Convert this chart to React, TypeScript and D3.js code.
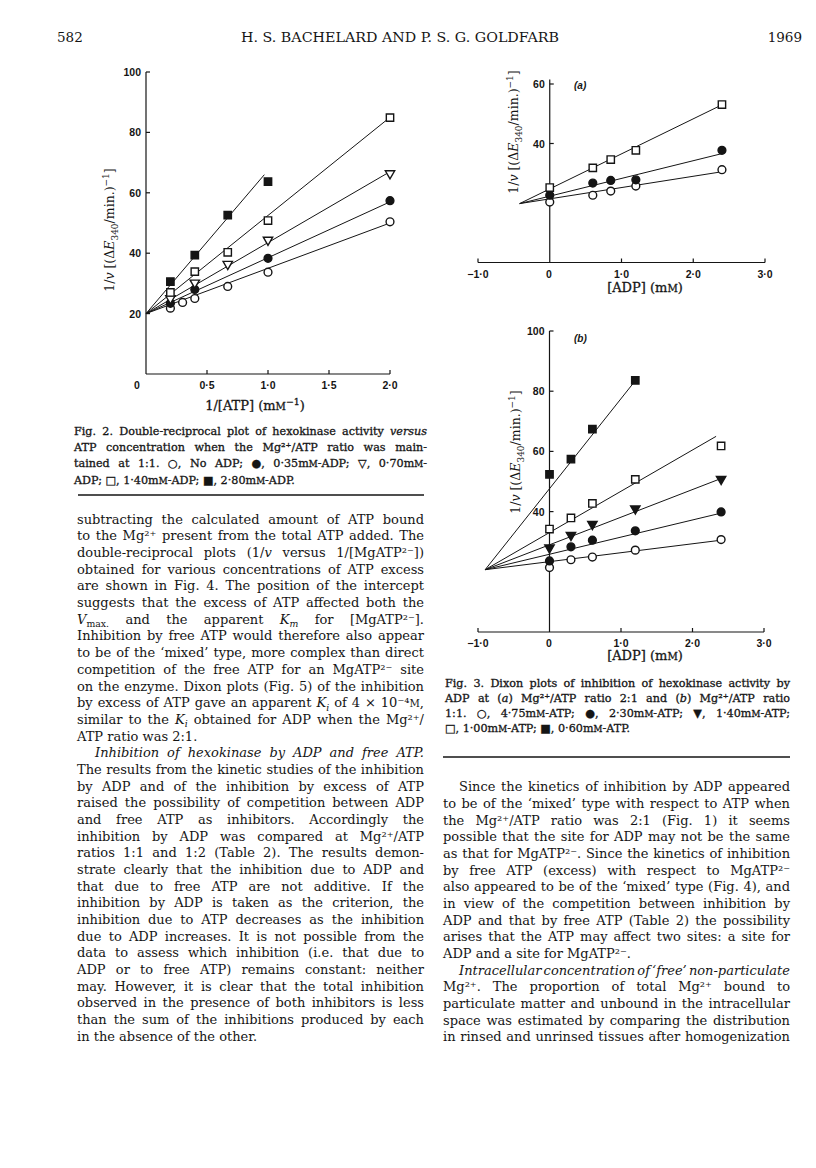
import React, { useLayoutEffect, useRef } from 'react';
import * as d3 from 'd3';

// ---- Fig. 2: double-reciprocal plot, 1/[ATP] (mM^-1) vs 1/v ----
const f2NoAdpX = [0.2, 0.3, 0.4, 0.67, 1.0, 2.0];
const f2NoAdpY = [21.8, 23.7, 25, 29, 33.7, 50.4];
const f2Adp035X = [0.2, 0.4, 1.0, 2.0];
const f2Adp035Y = [23.4, 28, 38.3, 57.4];
const f2Adp070X = [0.2, 0.4, 0.67, 1.0, 2.0];
const f2Adp070Y = [25, 30.2, 36.4, 44.4, 66.4];
const f2Adp140X = [0.2, 0.4, 0.67, 1.0, 2.0];
const f2Adp140Y = [27, 33.9, 40.3, 50.8, 84.9];
const f2Adp280X = [0.2, 0.4, 0.67, 1.0];
const f2Adp280Y = [30.6, 39.4, 52.6, 63.7];
// fitted lines: common intercept, then end point of each line
const f2Intercept = [0, 20];
const f2LineEndX = [2.0, 2.0, 2.0, 2.0, 0.97];
const f2LineEndY = [50, 57, 67, 85, 66];
const f2XTicks = [0.5, 1.0, 1.5, 2.0];
const f2XLabels = ['0·5', '1·0', '1·5', '2·0'];
const f2YTicks = [20, 40, 60, 80, 100];

// ---- Fig. 3(a): Dixon plot, Mg/ATP 2:1 ----
const f3aX = [0, 0.6, 0.85, 1.2, 2.4];
const f3aAtp475 = [20.3, 22.6, 24, 25.7, 31.2];
const f3aAtp230 = [22.6, 26.7, 27.6, 27.8, 37.7];
const f3aAtp100 = [25.2, 31.8, 34.6, 37.7, 53.1];
const f3aMeet = [-0.42, 19.8];
const f3aLineEndX = [2.4, 2.4, 2.4];
const f3aLineEndY = [30.5, 36.6, 53];

// ---- Fig. 3(b): Dixon plot, Mg/ATP 1:1 ----
const f3bX = [0, 0.3, 0.6, 1.2, 2.4];
const f3bAtp475 = [21.4, 24, 24.9, 27.2, 30.7];
const f3bAtp230 = [23.6, 28.3, 30.5, 33.6, 39.9];
const f3bAtp140 = [28, 32.2, 35.8, 41, 50.8];
const f3bAtp100 = [34.2, 37.9, 42.7, 50.7, 61.8];
const f3bAtp060X = [0, 0.3, 0.6, 1.2];
const f3bAtp060 = [52.4, 57.4, 67.4, 83.6];
const f3bMeet = [-0.9, 20.7];
const f3bLineEndX = [2.4, 2.4, 2.4, 2.33, 1.2];
const f3bLineEndY = [30.5, 39.5, 51, 65, 83.5];

const f3XTicks = [-1, 1, 2, 3];
const f3XLabels = ['−1·0', '1·0', '2·0', '3·0'];

const INK = '#151515';
const SERIF = '"DejaVu Serif", "Liberation Serif", serif';
const SANS = '"Liberation Sans", "DejaVu Sans", sans-serif';

// ---- text ----
const header = ['582', 'H. S. BACHELARD AND P. S. G. GOLDFARB', '1969'];

const fig2Caption = [
  'Fig. 2. Double-reciprocal plot of hexokinase activity *versus*',
  'ATP concentration when the Mg²⁺/ATP ratio was main-',
  'tained at 1:1. ○, No ADP; ●, 0·35m#m#-ADP; ▽, 0·70m#m#-',
  'ADP; □, 1·40m#m#-ADP; ■, 2·80m#m#-ADP.¶',
];

const fig3Caption = [
  'Fig. 3. Dixon plots of inhibition of hexokinase activity by',
  'ADP at (*a*) Mg²⁺/ATP ratio 2:1 and (*b*) Mg²⁺/ATP ratio',
  '1:1. ○, 4·75m#m#-ATP; ●, 2·30m#m#-ATP; ▼, 1·40m#m#-ATP;',
  '□, 1·00m#m#-ATP; ■, 0·60m#m#-ATP.¶',
];

const leftText = [
  'subtracting the calculated amount of ATP bound',
  'to the Mg²⁺ present from the total ATP added. The',
  'double-reciprocal plots (1/*v* versus 1/[MgATP²⁻])',
  'obtained for various concentrations of ATP excess',
  'are shown in Fig. 4. The position of the intercept',
  'suggests that the excess of ATP affected both the',
  '*V*_max._ and the apparent *K*_*m*_ for [MgATP²⁻].',
  'Inhibition by free ATP would therefore also appear',
  'to be of the ‘mixed’ type, more complex than direct',
  'competition of the free ATP for an MgATP²⁻ site',
  'on the enzyme. Dixon plots (Fig. 5) of the inhibition',
  'by excess of ATP gave an apparent *K*_*i*_ of 4 × 10⁻⁴#m#,',
  'similar to the *K*_*i*_ obtained for ADP when the Mg²⁺/',
  'ATP ratio was 2:1.¶',
  '>*Inhibition of hexokinase by ADP and free ATP.*',
  'The results from the kinetic studies of the inhibition',
  'by ADP and of the inhibition by excess of ATP',
  'raised the possibility of competition between ADP',
  'and free ATP as inhibitors. Accordingly the',
  'inhibition by ADP was compared at Mg²⁺/ATP',
  'ratios 1:1 and 1:2 (Table 2). The results demon-',
  'strate clearly that the inhibition due to ADP and',
  'that due to free ATP are not additive. If the',
  'inhibition by ADP is taken as the criterion, the',
  'inhibition due to ATP decreases as the inhibition',
  'due to ADP increases. It is not possible from the',
  'data to assess which inhibition (i.e. that due to',
  'ADP or to free ATP) remains constant: neither',
  'may. However, it is clear that the total inhibition',
  'observed in the presence of both inhibitors is less',
  'than the sum of the inhibitions produced by each',
  'in the absence of the other.¶',
];

const rightText = [
  '>Since the kinetics of inhibition by ADP appeared',
  'to be of the ‘mixed’ type with respect to ATP when',
  'the Mg²⁺/ATP ratio was 2:1 (Fig. 1) it seems',
  'possible that the site for ADP may not be the same',
  'as that for MgATP²⁻. Since the kinetics of inhibition',
  'by free ATP (excess) with respect to MgATP²⁻',
  'also appeared to be of the ‘mixed’ type (Fig. 4), and',
  'in view of the competition between inhibition by',
  'ADP and that by free ATP (Table 2) the possibility',
  'arises that the ATP may affect two sites: a site for',
  'ADP and a site for MgATP²⁻.¶',
  '>*Intracellular concentration of ‘free’ non-particulate*',
  'Mg²⁺. The proportion of total Mg²⁺ bound to',
  'particulate matter and unbound in the intracellular',
  'space was estimated by comparing the distribution',
  'in rinsed and unrinsed tissues after homogenization',
];

// *italic*  _subscript_  ^superscript^  #small caps#
function parse(s: string) {
  const out: any[] = [];
  let it = false, sub = false, sup = false, sc = false, buf = '';
  const push = () => { if (buf) out.push({ t: buf, it, sub, sup, sc }); buf = ''; };
  for (const ch of s) {
    if (ch === '*') { push(); it = !it; }
    else if (ch === '_') { push(); sub = !sub; }
    else if (ch === '^') { push(); sup = !sup; }
    else if (ch === '#') { push(); sc = !sc; }
    else buf += ch;
  }
  push();
  return out;
}

function Rich({ text, x, y, size, width, anchor, heavy, transform }: any) {
  const segs = parse(text);
  let off = 0;
  return (
    <text x={x} y={y} fontSize={size} fontFamily={SERIF} fill={INK} textAnchor={anchor}
      stroke={heavy ? INK : undefined} strokeWidth={heavy ? heavy : undefined}
      transform={transform} style={{ whiteSpace: 'pre' }} data-w={width}>
      {segs.map((s, i) => {
        const target = s.sub ? size * 0.28 : s.sup ? -size * 0.38 : 0;
        const dy = target - off;
        off = target;
        const small = s.sub || s.sup || s.sc;
        return (
          <tspan key={i} dy={dy || undefined} fontStyle={s.it ? 'italic' : undefined}
            fontSize={small ? size * (s.sc ? 0.78 : 0.72) : undefined}>
            {s.sc ? s.t.toUpperCase() : s.t}
          </tspan>
        );
      })}
    </text>
  );
}

function Column({ lines, x0, x1, y0, step, size, indent, heavy }: any) {
  return (
    <g>
      {lines.map((raw: string, i: number) => {
        let t = raw;
        const ind = t.startsWith('>');
        if (ind) t = t.slice(1);
        const last = t.endsWith('¶');
        if (last) t = t.slice(0, -1);
        const x = x0 + (ind ? indent : 0);
        return (
          <Rich key={i} text={t} x={x} y={y0 + i * step + 4.5} size={size} heavy={heavy}
            width={last ? undefined : x1 - x} />
        );
      })}
    </g>
  );
}

const SYM: any = { c: d3.symbolCircle, s: d3.symbolSquare, t: d3.symbolTriangle };

function Marker({ kind, cx, cy }: any) {
  const shape = kind[1];
  const filled = kind[0] === 'f';
  const size = shape === 'c' ? 48 : shape === 's' ? 54 : 38;
  const d = d3.symbol(SYM[shape], size)() as string;
  return (
    <path d={d} transform={`translate(${cx},${cy})${shape === 't' ? ' rotate(180)' : ''}`}
      fill={filled ? INK : '#fff'} stroke={INK} strokeWidth={1.4} />
  );
}

function Panel({ xs, ys, xTicks, xLabels, yTicks, yTop, series, tag, tagPos, xMin }: any) {
  const x0 = xs(0);
  const yAxis = ys(0);
  const line = d3.line<number[]>().x(d => xs(d[0])).y(d => ys(d[1]));
  return (
    <g>
      {/* axes */}
      <line x1={xs(xMin)} x2={xs(xTicks[xTicks.length - 1])} y1={yAxis} y2={yAxis} stroke={INK} strokeWidth={1.2} />
      <line x1={x0} x2={x0} y1={yAxis} y2={ys(yTop)} stroke={INK} strokeWidth={1.2} />
      {xTicks.map((v: number, i: number) => (
        <g key={'xt' + i}>
          <line x1={xs(v)} x2={xs(v)} y1={yAxis} y2={yAxis - 4} stroke={INK} strokeWidth={1.2} />
          <text x={xs(v)} y={yAxis + 11} fontSize={10.5} fontWeight="bold" fontFamily={SANS}
            textAnchor="middle" dominantBaseline="central" fill={INK}>{xLabels[i]}</text>
        </g>
      ))}
      {yTicks.map((v: number) => (
        <g key={'yt' + v}>
          <line x1={x0} x2={x0 + 4} y1={ys(v)} y2={ys(v)} stroke={INK} strokeWidth={1.2} />
          <text x={x0 - 5} y={ys(v)} fontSize={10.5} fontWeight="bold" fontFamily={SANS}
            textAnchor="end" dominantBaseline="central" fill={INK}>{v}</text>
        </g>
      ))}
      {/* fitted lines */}
      {series.map((s: any, i: number) => (
        <path key={'l' + i} d={line([s.start, s.end]) as string} stroke={INK} strokeWidth={1} fill="none" />
      ))}
      {/* points */}
      {series.map((s: any, i: number) => (
        <g key={'p' + i}>
          {s.x.map((xv: number, j: number) => (
            <Marker key={j} kind={s.kind} cx={xs(xv)} cy={ys(s.y[j])} />
          ))}
        </g>
      ))}
      {tag && (
        <text x={tagPos[0]} y={tagPos[1]} fontSize={10} fontStyle="italic" fontWeight="bold"
          fontFamily={SANS} fill={INK} dominantBaseline="central">{tag}</text>
      )}
    </g>
  );
}

const YLABEL = '1/*v* [(Δ*E*_340_/min.)^−1^]';

export default function App() {
  const svgRef = useRef<SVGSVGElement>(null);

  // justify the text lines by spreading the word gaps
  useLayoutEffect(() => {
    const svg = svgRef.current;
    if (!svg) return;
    svg.querySelectorAll('text[data-w]').forEach((el: any) => {
      const w = +el.getAttribute('data-w');
      const gaps = (el.textContent.trim().match(/ /g) || []).length;
      if (!gaps) return;
      el.style.wordSpacing = '0px';
      const nat = el.getComputedTextLength();
      el.style.wordSpacing = `${(w - nat) / gaps}px`;
      const after = el.getComputedTextLength();
      if (Math.abs(after - w) > 1) {
        // word-spacing ignored: fall back to textLength
        el.style.wordSpacing = '';
        el.setAttribute('textLength', w);
        el.setAttribute('lengthAdjust', 'spacing');
      }
    });
  }, []);

  const f2x = d3.scaleLinear().domain([0, 2]).range([146, 390]);
  const f2y = d3.scaleLinear().domain([0, 100]).range([374, 72]);
  const f3ax = d3.scaleLinear().domain([-1, 3]).range([478, 765]);
  const f3ay = d3.scaleLinear().domain([0, 60]).range([262.5, 84]);
  const f3bx = d3.scaleLinear().domain([-1, 3]).range([478, 764]);
  const f3by = d3.scaleLinear().domain([0, 100]).range([632, 331]);

  const f2Kinds = ['oc', 'fc', 'ot', 'os', 'fs'];
  const f2Xs = [f2NoAdpX, f2Adp035X, f2Adp070X, f2Adp140X, f2Adp280X];
  const f2Ys = [f2NoAdpY, f2Adp035Y, f2Adp070Y, f2Adp140Y, f2Adp280Y];
  const fig2 = f2Kinds.map((k, i) => ({
    kind: k, x: f2Xs[i], y: f2Ys[i], start: f2Intercept, end: [f2LineEndX[i], f2LineEndY[i]],
  }));

  const f3aYs = [f3aAtp475, f3aAtp230, f3aAtp100];
  const fig3a = ['oc', 'fc', 'os'].map((k, i) => ({
    kind: k, x: f3aX, y: f3aYs[i], start: f3aMeet, end: [f3aLineEndX[i], f3aLineEndY[i]],
  }));

  const f3bXs = [f3bX, f3bX, f3bX, f3bX, f3bAtp060X];
  const f3bYs = [f3bAtp475, f3bAtp230, f3bAtp140, f3bAtp100, f3bAtp060];
  const fig3b = ['oc', 'fc', 'ft', 'os', 'fs'].map((k, i) => ({
    kind: k, x: f3bXs[i], y: f3bYs[i], start: f3bMeet, end: [f3bLineEndX[i], f3bLineEndY[i]],
  }));

  return (
    <svg ref={svgRef} width={816} height={1168} style={{ position: 'absolute', left: 0, top: 0, background: '#fff' }}>
      <rect width={816} height={1168} fill="#fff" />
      {/* running header */}
      <text x={57} y={42} fontSize={13.5} fontFamily={SERIF} fill={INK}>{header[0]}</text>
      <text x={400} y={42} fontSize={13.5} fontFamily={SERIF} fill={INK} textAnchor="middle"
        textLength={318} lengthAdjust="spacingAndGlyphs">{header[1]}</text>
      <text x={802} y={42} fontSize={13.5} fontFamily={SERIF} fill={INK} textAnchor="end">{header[2]}</text>

      {/* Fig. 2 */}
      <Panel xs={f2x} ys={f2y} xTicks={f2XTicks} xLabels={f2XLabels} yTicks={f2YTicks} yTop={100}
        series={fig2} xMin={0} />
      <text x={137} y={f2y(0) + 11} fontSize={10.5} fontWeight="bold" fontFamily={SANS}
        textAnchor="middle" dominantBaseline="central" fill={INK}>0</text>
      <Rich text={YLABEL} x={0} y={0} size={12.5} anchor="middle" transform="translate(114,230) rotate(-90)" />
      <Rich text="1/[ATP] (m#m#^−1^)" x={255} y={410} size={13} anchor="middle" heavy={0.3} />
      <Column lines={fig2Caption} x0={74} x1={427} y0={430} step={16.4} size={11.2} heavy={0.3} indent={0} />

      {/* Fig. 3 */}
      <Panel xs={f3ax} ys={f3ay} xTicks={f3XTicks} xLabels={f3XLabels} yTicks={[40, 60]} yTop={61.5}
        series={fig3a} xMin={-1} tag="(a)" tagPos={[574, 85]} />
      <text x={549} y={f3ay(0) + 11} fontSize={10.5} fontWeight="bold" fontFamily={SANS}
        textAnchor="middle" dominantBaseline="central" fill={INK}>0</text>
      <Rich text={YLABEL} x={0} y={0} size={12.5} anchor="middle" transform="translate(518,132) rotate(-90)" />
      <Rich text="[ADP] (m#m#)" x={645} y={292} size={13} anchor="middle" heavy={0.3} />

      <Panel xs={f3bx} ys={f3by} xTicks={f3XTicks} xLabels={f3XLabels} yTicks={[40, 60, 80, 100]} yTop={100}
        series={fig3b} xMin={-1} tag="(b)" tagPos={[574, 338]} />
      <text x={549} y={f3by(0) + 11} fontSize={10.5} fontWeight="bold" fontFamily={SANS}
        textAnchor="middle" dominantBaseline="central" fill={INK}>0</text>
      <Rich text={YLABEL} x={0} y={0} size={12.5} anchor="middle" transform="translate(520,452) rotate(-90)" />
      <Rich text="[ADP] (m#m#)" x={645} y={660} size={13} anchor="middle" heavy={0.3} />
      <Column lines={fig3Caption} x0={445} x1={790} y0={682} step={15.2} size={11.2} heavy={0.3} indent={0} />

      {/* rules */}
      <line x1={78} x2={424} y1={495} y2={495} stroke={INK} strokeWidth={1.4} />
      <line x1={443} x2={790} y1={757} y2={757} stroke={INK} strokeWidth={1.4} />

      {/* body text */}
      <Column lines={leftText} x0={77} x1={424} y0={519.3} step={16.67} size={13} indent={18} />
      <Column lines={rightText} x0={443} x1={790} y0={786.7} step={16.67} size={13} indent={16} />
    </svg>
  );
}
